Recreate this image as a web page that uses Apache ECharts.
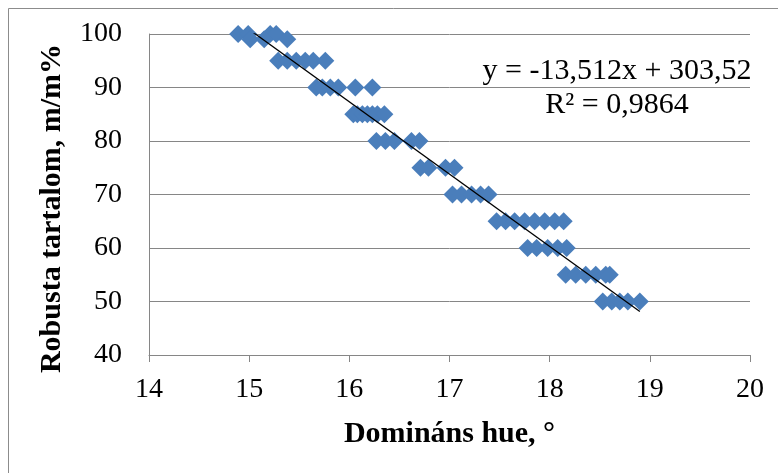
<!DOCTYPE html>
<html>
<head>
<meta charset="utf-8">
<script src="https://cdn.jsdelivr.net/npm/echarts@6/dist/echarts.min.js"></script>
<style>
  html, body { margin: 0; padding: 0; background: #fff; }
  #chart { width: 778px; height: 473px; }
</style>
</head>
<body>
<div id="chart"></div>
<script>
// mért pontok (domináns hue, robusta tartalom)
var hue = [
	14.89, 14.99, 15.21, 15.27, 15.01, 15.15, 15.38,
	15.29, 15.38, 15.47, 15.56, 15.64, 15.76,
	15.67, 15.73, 15.81, 15.89, 16.06, 16.23,
	16.04, 16.08, 16.13, 16.18, 16.23, 16.28, 16.35,
	16.27, 16.36, 16.45, 16.62, 16.70,
	16.71, 16.79, 16.96, 17.05,
	17.03, 17.12, 17.22, 17.31, 17.39,
	17.47, 17.56, 17.65, 17.75, 17.85, 17.95, 18.05, 18.14,
	17.78, 17.87, 17.98, 18.08, 18.17,
	18.16, 18.26, 18.36, 18.46, 18.56, 18.60,
	18.53, 18.62, 18.70, 18.78, 18.90
];
var robusta = [
	100, 100, 100, 100, 99, 99, 99,
	95, 95, 95, 95, 95, 95,
	90, 90, 90, 90, 90, 90,
	85, 85, 85, 85, 85, 85, 85,
	80, 80, 80, 80, 80,
	75, 75, 75, 75,
	70, 70, 70, 70, 70,
	65, 65, 65, 65, 65, 65, 65, 65,
	60, 60, 60, 60, 60,
	55, 55, 55, 55, 55, 55,
	50, 50, 50, 50, 50
];
// trendvonal: y = -13,512x + 303,52
var trendCoef = [-13.512, 303.52];
var trendRange = [15.03, 18.90];
var eqLines = ['y = -13,512x + 303,52', 'R² = 0,9864'];

var pts = hue.map(function(h, i) { return [h, robusta[i]]; });
var trendPts = trendRange.map(function(x) { return [x, trendCoef[0] * x + trendCoef[1]]; });

var myChart = echarts.init(document.getElementById('chart'));
var serif = '"Liberation Serif", "Times New Roman", serif';
myChart.setOption({
	backgroundColor: '#fff',
	animation: false,
	textStyle: { fontFamily: serif },
	grid: { left: 149, right: 28, top: 34, bottom: 118 },
	graphic: [{
		type: 'rect',
		shape: { x: 8.5, y: 8.5, width: 800, height: 500 },
		style: { fill: 'none', stroke: '#8c8c8c', lineWidth: 1 },
		silent: true
	}, {
		type: 'text',
		x: 617,
		y: 56,
		style: {
			text: eqLines[0],
			font: '30px ' + serif,
			fill: '#000',
			align: 'center'
		}
	}, {
		type: 'text',
		x: 617,
		y: 90,
		style: {
			text: eqLines[1],
			font: '30px ' + serif,
			fill: '#000',
			align: 'center'
		}
	}],
	xAxis: {
		type: 'value',
		min: 14, max: 20, interval: 1,
		name: 'Domináns hue, °',
		nameLocation: 'middle',
		nameGap: 64,
		nameTextStyle: { fontSize: 30, fontWeight: 'bold', color: '#000', fontFamily: serif },
		axisLine: { show: true, lineStyle: { color: '#868686', width: 1 } },
		axisTick: { show: true, length: 7, lineStyle: { color: '#868686' } },
		axisLabel: { fontSize: 28, color: '#000', margin: 21, fontFamily: serif },
		splitLine: { show: false }
	},
	yAxis: {
		type: 'value',
		min: 40, max: 100, interval: 10,
		name: 'Robusta tartalom, m/m%',
		nameLocation: 'middle',
		nameGap: 82,
		nameRotate: 90,
		nameTextStyle: { fontSize: 30, fontWeight: 'bold', color: '#000', fontFamily: serif, padding: [0, 28, 0, 0] },
		axisLine: { show: true, lineStyle: { color: '#868686', width: 1 } },
		axisTick: { show: false },
		axisLabel: { fontSize: 28, color: '#000', margin: 27, fontFamily: serif },
		splitLine: { show: true, lineStyle: { color: '#868686', width: 1 } }
	},
	series: [{
		type: 'scatter',
		data: pts,
		symbol: 'diamond',
		symbolSize: 18,
		itemStyle: { color: '#4a7ebb', opacity: 1 },
		z: 2
	}, {
		type: 'line',
		data: trendPts,
		symbol: 'none',
		lineStyle: { color: '#000', width: 1.3 },
		z: 3
	}]
});
</script>
</body>
</html>
